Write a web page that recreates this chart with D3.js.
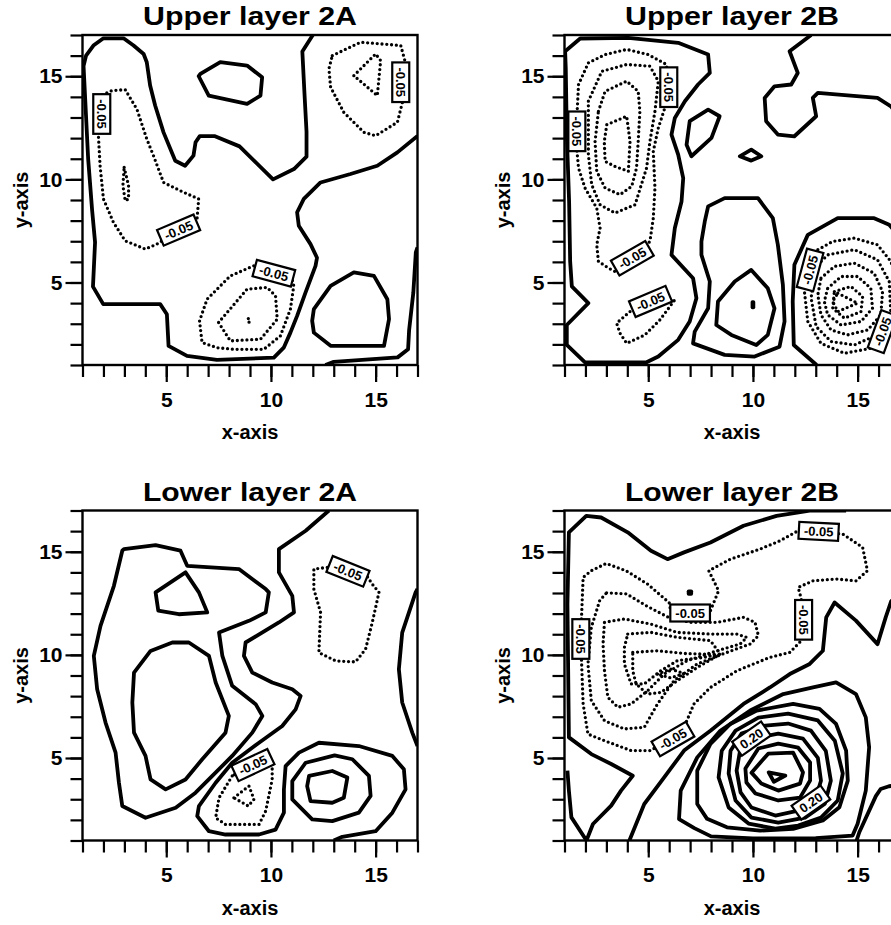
<!DOCTYPE html>
<html>
<head>
<meta charset="utf-8">
<script src="https://cdn.jsdelivr.net/npm/d3@7"></script>
<style>
  body { margin: 0; background: #fff; }
  svg { display: block; }
  text { font-family: "Liberation Sans", Arial, sans-serif; font-weight: bold; }
</style>
</head>
<body>
<svg id="chart" width="891" height="925"></svg>
<script>

// panel titles and axis ticks
const titles = ['Upper layer 2A', 'Upper layer 2B', 'Lower layer 2A', 'Lower layer 2B']
const minorTicks = d3.range(1, 18)
const majorTicks = [5, 10, 15]

// contour lines, [x, y] in grid units
// Upper layer 2A
const ua_loops = [
	[[6.55,15.0],[7.03,14.06],[8.86,13.66],[9.5,14.06],[9.58,14.95],[8.86,15.52],[7.58,15.68],[6.63,15.11]],
	[[11.97,3.14],[12.05,2.57],[12.85,1.93],[15.4,1.93],[15.64,3.22],[15.56,4.19],[14.92,5.32],[13.96,5.49],[12.85,4.84],[12.05,3.71]]
]
const ua_paths = [
	[[12.0,17],[11.5,16.2],[11.6,14.2],[11.7,12.3],[11.7,11.1],[11.1,10.5],[10.1,10.0],[8.5,11.6],[7.3,12.1],[6.6,12.1],[6.4,11.8],[6.3,11.15],[5.9,10.66],[5.43,10.9],[4.87,12.28],[4.47,13.58],[4.23,14.55],[4.07,15.68],[3.92,16.08],[3.44,16.49],[2.96,16.84],[2.0,16.84],[1.52,16.49],[1.17,16.0],[1.05,15.5],[1.27,11.0],[1.46,8.5],[1.6,6.95],[1.5,4.8],[1.99,3.95],[4.71,3.95],[5.03,3.46],[5.11,1.93],[5.99,1.44],[7.42,1.25],[10.14,1.36],[10.61,1.84],[10.93,2.57],[11.25,3.38],[11.65,4.51],[12.13,5.81],[12.2,6.2],[11.89,6.86],[11.33,7.75],[11.25,8.4],[11.57,9.05],[12.37,9.85],[13.8,10.26],[15.08,10.66],[16.04,11.31],[17,12.1]],
	[[12.6,1.0],[13.0,1.15],[16.05,1.37],[16.55,1.76],[16.6,2.7],[16.8,4.5],[16.92,6.46],[17,6.7]]
]
const ua_dotted = [
	[[12.93,16.0],[14.28,16.65],[16.2,16.49],[16.44,15.6],[16.28,13.74],[16.04,12.77],[15.0,12.12],[14.44,12.28],[13.48,13.25],[12.85,14.47],[12.77,15.36]],
	[[13.96,15.03],[15.0,16.08],[15.24,15.76],[15.08,14.06]],
	[[1.95,14.1],[2.4,14.3],[3.04,14.35],[3.6,13.4],[4.07,11.96],[4.39,11.15],[4.87,9.85],[5.67,9.45],[6.55,9.05],[6.47,8.07],[5.59,7.54],[4.55,6.86],[4.0,6.62],[3.04,7.02],[2.48,7.91],[2.0,9.05],[1.84,10.66],[1.76,12.12]],
	[[2.99,10.58],[3.2,9.7],[3.2,9.05],[3.04,8.96],[2.93,9.7]],
	[[9.18,5.81],[8.06,5.32],[6.95,4.19],[6.59,3.14],[6.71,2.09],[7.42,1.84],[8.22,1.76],[9.66,1.76],[10.45,2.41],[10.93,3.71],[11.09,4.84],[11.0,5.2]],
	[[7.5,3.06],[8.06,2.17],[9.5,2.25],[10.3,3.22],[10.22,4.35],[9.82,4.76],[8.86,4.68]],
	[[8.92,3.25],[8.96,3.05]]
]
const ua_labels = [['-0.05',1.92,13.17,90],['-0.05',5.59,7.54,-23],['-0.05',10.14,5.45,15],['-0.05',16.2,14.71,90]]

// Upper layer 2B
const ub_loops = [
	[[1.75,16.83],[4.05,16.86],[6.43,16.62],[7.86,16.05],[7.94,15.16],[7.38,14.6],[6.75,13.79],[6.27,12.98],[6.11,12.17],[6.43,11.2],[6.67,10.06],[6.59,8.93],[6.27,7.64],[6.11,6.34],[7.14,5.21],[7.3,4.24],[6.98,3.11],[6.43,2.22],[5.48,1.41],[4.92,1.13],[1.98,1.13],[1.11,1.97],[1.11,2.94],[2.14,4.0],[1.35,4.81],[1.27,6.02],[1.22,8.93],[1.11,12.17],[1.06,15.4],[1.03,16.21]],
	[[6.98,12.82],[7.86,13.38],[8.41,13.06],[8.02,12.01],[7.06,11.12],[6.83,11.68]],
	[[9.37,11.12],[9.92,11.44],[10.4,11.12],[9.92,10.91]],
	[[7.86,8.69],[8.65,9.09],[10.24,9.09],[10.95,8.12],[11.19,6.83],[11.43,4.89],[11.51,3.11],[11.27,1.89],[10.08,1.41],[8.65,1.49],[7.14,2.05],[7.22,2.62],[7.86,3.75],[7.94,5.05],[7.54,6.34],[7.54,6.99],[7.7,7.96]],
	[[8.33,4.08],[9.13,5.05],[9.92,5.61],[10.71,4.72],[11.03,3.75],[10.71,2.46],[10.16,1.97],[8.97,2.46],[8.25,2.94]],
	[[9.98,4.05],[10.02,4.05],[10.02,3.8],[9.98,3.8]]
]
const ub_paths = [
	[[12.78,17],[11.75,16.21],[12.14,15.16],[11.83,14.6],[11.03,14.51],[10.56,13.95],[10.63,12.82],[11.19,12.17],[11.98,12.09],[13.02,13.06],[12.86,13.95],[13.1,14.19],[15.95,13.95],[16.59,13.54],[17,13.0]],
	[[13.04,1.0],[11.95,1.97],[11.9,4.08],[11.98,5.86],[12.62,7.31],[14.05,8.12],[15.79,8.12],[16.51,7.8],[17,7.2]]
]
const ub_dotted = [
	[[1.6,13.2],[1.67,14.6],[2.14,15.65],[2.94,16.05],[3.97,16.3],[5.0,16.05],[5.87,15.57],[5.98,14.47],[5.79,13.46],[5.48,12.49],[5.24,11.36],[5.32,9.58],[5.24,8.12],[5.08,6.99],[4.24,6.18],[3.57,5.45],[3.1,5.7],[2.62,6.02],[2.54,6.83],[2.7,7.64],[2.54,8.61],[1.98,9.58],[1.67,10.55],[1.59,11.44]],
	[[2.14,13.79],[2.78,15.24],[3.97,15.57],[5.08,15.49],[5.48,14.76],[5.32,13.3],[5.08,11.84],[4.92,10.55],[4.37,8.77],[3.41,8.37],[2.7,8.77],[2.3,9.74],[2.14,11.2],[2.14,12.49]],
	[[2.62,13.3],[2.94,14.27],[3.97,14.76],[4.52,14.27],[4.6,13.3],[4.52,11.84],[4.44,10.55],[4.21,9.66],[3.65,9.26],[2.94,9.58],[2.54,10.39],[2.46,11.84]],
	[[3.02,12.65],[3.97,13.06],[4.13,11.84],[4.05,10.39],[3.41,10.63],[2.94,10.87],[2.9,11.84]],
	[[4.13,3.59],[3.49,3.03],[3.65,2.54],[3.97,2.05],[4.84,2.46],[5.56,3.19],[6.27,4.16]],
	[[13.1,6.59],[13.81,6.99],[14.84,7.15],[15.95,6.83],[16.59,6.02],[16.9,5.0],[16.8,3.2],[16.19,2.62],[15.63,1.81],[14.37,1.57],[13.25,2.05],[12.62,3.11],[12.46,4.56],[12.73,5.61]],
	[[12.94,5.7],[13.57,6.34],[14.84,6.59],[15.95,6.1],[16.51,5.05],[16.59,3.43],[15.95,2.46],[14.84,1.97],[13.73,2.14],[13.02,2.86],[12.78,4.24]],
	[[13.25,5.21],[13.89,5.78],[14.84,5.94],[15.79,5.45],[16.19,4.56],[16.11,3.43],[15.48,2.7],[14.52,2.46],[13.73,2.7],[13.25,3.43],[13.1,4.4]],
	[[13.57,4.72],[14.21,5.29],[15.0,5.29],[15.63,4.72],[15.71,3.75],[15.16,3.11],[14.21,2.94],[13.57,3.43],[13.41,4.08]],
	[[13.89,4.56],[14.68,4.81],[15.24,4.32],[15.16,3.59],[14.37,3.27],[13.81,3.75]],
	[[14.05,4.48],[15.0,4.0],[14.05,3.59],[13.81,4.08]]
]
const ub_labels = [['-0.05',1.59,12.33,90],['-0.05',5.98,14.47,90],['-0.05',4.24,6.18,-30],['-0.05',5.11,4.08,-23],['-0.05',12.73,5.61,-75],['-0.05',16.19,2.62,-70]]

// Lower layer 2A
const la_loops = [
	[[2.98,15.13],[4.49,15.32],[5.68,15.05],[6.0,14.32],[8.47,14.16],[9.75,13.19],[9.9,13.03],[9.75,12.06],[8.95,11.65],[7.52,11.08],[7.68,9.95],[8.15,8.5],[9.27,7.61],[9.59,7.04],[9.11,6.23],[8.15,5.1],[7.2,4.13],[6.4,3.32],[5.45,2.59],[4.01,2.1],[2.9,2.67],[2.74,3.8],[2.58,5.26],[2.1,6.72],[1.7,8.33],[1.54,9.95],[1.86,11.41],[2.5,13.35],[2.9,15.05]],
	[[4.49,13.03],[5.92,14.0],[6.56,13.03],[6.96,12.06],[5.6,11.97],[4.62,12.14]],
	[[4.25,10.19],[5.29,10.6],[6.08,10.6],[7.04,9.95],[7.36,8.66],[7.99,7.04],[7.83,6.23],[6.72,4.94],[5.92,3.96],[4.97,3.48],[4.25,3.96],[4.01,5.1],[3.46,6.23],[3.38,7.69],[3.46,9.14]],
	[[11.02,3.88],[11.66,4.77],[13.04,5.13],[13.89,4.94],[14.68,4.13],[14.76,3.16],[14.2,2.35],[12.93,1.94],[11.97,2.02],[11.02,2.99]],
	[[11.82,4.13],[12.93,4.37],[13.65,4.05],[13.48,3.07],[12.93,2.83],[11.89,2.91],[11.73,3.64]]
]
const la_paths = [
	[[12.77,17],[11.66,16.02],[10.38,15.13],[10.38,14.0],[11.02,12.86],[11.1,12.06],[10.38,11.57],[8.79,10.6],[8.71,9.95],[9.11,9.14],[10.06,8.66],[11.02,8.33],[11.42,8.01],[11.18,7.36],[10.54,6.55],[9.43,5.74],[8.15,4.77],[7.36,3.8],[6.56,2.67],[6.48,2.18],[7.04,1.45],[7.83,1.29],[9.43,1.29],[10.22,1.53],[10.62,2.35],[10.62,3.48],[10.7,4.61],[11.34,5.26],[12.29,5.74],[14.2,5.58],[15.8,5.1],[16.35,4.45],[16.43,3.48],[15.8,2.35],[15.0,1.45],[13.41,1.18],[13.0,1.0]],
	[[17,13.2],[16.91,13.03],[16.27,11.08],[16.11,9.3],[16.27,7.69],[16.75,6.23],[17,5.58]]
]
const la_dotted = [
	[[12.69,14.24],[12.05,14.16],[12.05,13.19],[12.37,12.06],[12.29,10.11],[13.09,9.71],[14.04,9.66],[14.52,10.28],[14.84,11.57],[15.16,13.03],[14.84,13.43],[14.6,13.8]],
	[[8.15,4.13],[7.52,3.07],[7.36,2.1],[7.83,1.78],[9.43,1.78],[9.75,2.43],[10.06,3.96],[10.06,4.85],[9.8,5.1]],
	[[8.23,3.07],[8.95,3.64],[9.19,3.0],[8.92,2.67]]
]
const la_labels = [['-0.05',13.68,14.05,22],['-0.05',9.14,4.66,-25]]

// Lower layer 2B
const lb_loops = [
	[[10.75,4.3],[11.55,4.15],[11.0,3.85]],
	[[9.93,4.29],[10.73,5.21],[11.92,5.26],[12.39,4.3],[12.25,3.76],[11.21,3.42],[10.4,3.76]],
	[[9.64,4.49],[10.26,5.46],[11.21,5.7],[12.16,5.5],[12.73,4.78],[12.73,3.91],[12.25,3.08],[11.21,2.94],[10.12,3.28],[9.69,3.81]],
	[[9.22,4.39],[9.41,5.5],[10.26,5.99],[11.21,6.18],[12.39,5.94],[13.1,5.01],[13.25,3.9],[12.96,2.94],[12.16,2.45],[11.07,2.21],[9.93,2.6],[9.41,3.33]],
	[[8.84,4.25],[8.93,5.35],[9.45,6.18],[10.59,6.57],[11.68,6.67],[12.77,6.33],[13.48,5.35],[13.72,3.9],[13.44,2.79],[12.49,2.11],[11.21,1.87],[9.93,2.11],[9.17,2.94]],
	[[8.36,4.06],[8.51,5.35],[9.17,6.33],[10.26,6.96],[11.68,7.15],[13.1,6.82],[13.91,5.84],[14.29,4.25],[14.05,2.94],[13.25,2.11],[12.16,1.72],[11.07,1.58],[9.79,1.82],[8.84,2.6]],
	[[7.34,2.77],[7.34,4.39],[7.97,5.68],[8.92,6.65],[10.18,7.3],[11.92,7.62],[13.18,7.38],[13.97,6.65],[14.45,5.36],[14.53,3.9],[14.13,2.61],[13.34,1.97],[11.92,1.56],[10.34,1.48],[8.76,1.64],[7.81,2.05]],
	[[6.47,2.04],[6.55,3.42],[7.34,5.03],[8.44,6.32],[9.87,7.3],[11.45,8.1],[12.87,8.42],[13.97,8.67],[14.92,8.1],[15.39,6.97],[15.55,5.52],[15.39,3.42],[15.0,1.81],[14.76,1.24],[13,1.12],[10,1.1],[8,1.2],[7.2,1.6]],
	[[6.93,13.08],[7.05,13.08],[7.05,12.96],[6.93,12.96]]
]
const lb_paths = [
	[[14.45,17],[12.71,16.99],[11.13,16.74],[9.55,16.26],[7.97,15.45],[6.71,14.97],[5.92,14.64],[5.13,15.05],[4.02,15.94],[2.75,16.66],[2.04,16.74],[1.21,15.94],[1.14,12.46],[1.21,6.0],[2.28,5.19],[3.23,4.71],[4.26,4.14],[3.7,3.42],[3.23,2.69],[2.36,1.8],[2.05,1.0]],
	[[2.05,1.0],[1.33,2.12],[1.21,3.42],[1.14,4.39]],
	[[4.1,1.0],[4.81,2.77],[5.76,4.06],[6.71,5.36],[7.97,6.32],[9.55,7.62],[10.81,8.42],[11.76,9.07],[12.71,9.56],[13.34,10.2],[13.5,11.82],[13.9,12.54],[14.92,11.66],[15.95,10.52],[16.34,11.82],[16.6,12.6],[17,13.0]],
	[[14.95,1.0],[15.08,1.4],[15.87,3.15],[16.1,3.5],[16.5,3.63],[17,3.7]]
]
const lb_dotted = [
	[[1.81,11.74],[1.89,13.76],[2.28,14.08],[2.99,14.43],[3.94,14.08],[4.97,13.43],[6.0,12.53],[6.07,12.14],[7.97,12.14],[8.36,13.11],[7.89,14.08],[8.92,14.64],[10.34,15.13],[11.29,15.53],[12.16,16.02],[14.29,15.86],[15.24,15.21],[15.47,14.08],[14.92,13.59],[13.97,13.68],[12.87,13.59],[12.16,13.27],[12.31,12.71],[12.31,10.69],[11.76,10.12],[10.81,9.88],[9.23,9.23],[7.97,8.42],[7.18,7.62],[6.71,6.49],[5.13,5.36],[4.18,5.36],[2.91,5.84],[2.12,6.16],[1.89,7.62],[1.81,9.8]],
	[[3.01,13.01],[3.96,12.96],[4.91,12.38],[6.0,11.8],[7.02,11.58],[8.29,11.58],[9.55,11.82],[10.1,11.58],[10.26,10.93],[9.87,10.53],[8.76,10.12],[7.34,9.56],[6.23,8.75],[5.44,7.62],[4.81,6.49],[3.86,6.41],[2.91,6.81],[2.28,7.78],[2.12,9.56],[2.28,11.33],[2.68,12.63]],
	[[2.91,11.58],[3.86,11.74],[5.13,11.49],[6.39,11.09],[7.97,11.01],[9.23,11.01],[9.71,10.85],[9.39,10.53],[8.29,10.2],[6.86,9.72],[5.76,9.07],[4.97,8.26],[4.18,7.62],[3.55,7.46],[3.07,7.94],[2.91,9.23],[2.84,10.53]],
	[[4.02,11.01],[5.13,11.09],[6.39,10.85],[7.97,10.69],[8.44,10.04],[7.65,9.88],[6.39,9.72],[5.6,9.23],[4.81,8.59],[4.18,8.59],[3.86,9.56],[3.86,10.36]],
	[[4.26,10.12],[5.44,10.2],[6.71,10.07],[8.41,10.01],[7.34,9.39],[6.39,8.75],[5.6,8.18],[4.97,8.1],[4.42,8.59],[4.26,9.23]],
	[[5.44,9.07],[6.07,9.31],[6.71,9.1],[6.07,8.88]]
]
const lb_labels = [['-0.05',1.78,10.77,90],['-0.05',13.14,15.99,3],['-0.05',12.42,11.7,90],['-0.05',7.0,12.03,0],['-0.05',6.18,5.92,-30],['0.20',9.93,5.94,-35],['0.20',12.77,2.84,-35]]


const panels = [
	{ title: titles[0], col: 0, row: 0, loops: ua_loops, paths: ua_paths, dotted: ua_dotted, labels: ua_labels },
	{ title: titles[1], col: 1, row: 0, loops: ub_loops, paths: ub_paths, dotted: ub_dotted, labels: ub_labels },
	{ title: titles[2], col: 0, row: 1, loops: la_loops, paths: la_paths, dotted: la_dotted, labels: la_labels },
	{ title: titles[3], col: 1, row: 1, loops: lb_loops, paths: lb_paths, dotted: lb_dotted, labels: lb_labels },
]

const pw = 335, ph = 330
const colX = [82.5, 564.5]
const rowY = [35, 510.5]

const svg = d3.select('#chart')

panels.forEach((p, i) => {
	const x = d3.scaleLinear().domain([1, 17]).range([0, pw])
	const y = d3.scaleLinear().domain([1, 17]).range([ph, 0])

	const g = svg.append('g')
		.attr('transform', `translate(${colX[p.col]}, ${rowY[p.row]})`)

	g.append('clipPath').attr('id', 'clip' + i)
		.append('rect').attr('width', pw).attr('height', ph)

	const c = g.append('g').attr('clip-path', `url(#clip${i})`)

	const open = d3.line().x(d => x(d[0])).y(d => y(d[1]))
	const closed = d3.line().x(d => x(d[0])).y(d => y(d[1])).curve(d3.curveLinearClosed)

	c.selectAll('path.loop').data(p.loops).join('path')
		.attr('class', 'loop')
		.attr('d', closed)
		.attr('fill', 'none').attr('stroke', '#000')
		.attr('stroke-width', 3.8).attr('stroke-linejoin', 'round')

	c.selectAll('path.open').data(p.paths).join('path')
		.attr('class', 'open')
		.attr('d', open)
		.attr('fill', 'none').attr('stroke', '#000')
		.attr('stroke-width', 3.8).attr('stroke-linejoin', 'round')

	c.selectAll('path.dot').data(p.dotted).join('path')
		.attr('class', 'dot')
		.attr('d', closed)
		.attr('fill', 'none').attr('stroke', '#000')
		.attr('stroke-width', 3.3).attr('stroke-linecap', 'round')
		.attr('stroke-dasharray', '0 4.8')

	// contour labels in white boxes
	const lab = c.selectAll('g.lab').data(p.labels).join('g')
		.attr('class', 'lab')
		.attr('transform', d => `translate(${x(d[1])}, ${y(d[2])}) rotate(${d[3]})`)
	lab.append('rect')
	const texts = lab.append('text')
		.attr('text-anchor', 'middle').attr('dy', 4.6)
		.attr('font-size', 13)
		.text(d => d[0])
	texts.each(function() {
		const w = this.getComputedTextLength() + 10
		d3.select(this.previousSibling)
			.attr('x', -w / 2).attr('y', -8.5)
			.attr('width', w).attr('height', 17)
			.attr('fill', '#fff').attr('stroke', '#000').attr('stroke-width', 2.2)
	})

	// frame
	g.append('rect').attr('width', pw).attr('height', ph)
		.attr('fill', 'none').attr('stroke', '#000').attr('stroke-width', 2.4)

	// axes: minor ticks every unit, longer labelled ticks at 5, 10, 15
	const axes = [
		[d3.axisBottom(x).tickValues(minorTicks).tickSize(12).tickFormat(''), `translate(0, ${ph})`],
		[d3.axisBottom(x).tickValues(majorTicks).tickSize(17).tickPadding(10), `translate(0, ${ph})`],
		[d3.axisLeft(y).tickValues(minorTicks).tickSize(12).tickFormat(''), null],
		[d3.axisLeft(y).tickValues(majorTicks).tickSize(17).tickPadding(3), null],
	]
	axes.forEach(([ax, tr]) => {
		const a = g.append('g').call(ax)
		if (tr) a.attr('transform', tr)
		a.select('.domain').remove()
		a.selectAll('line').attr('stroke', '#000').attr('stroke-width', 2.2)
		a.selectAll('text').attr('font-size', 21).attr('fill', '#000')
			.attr('font-family', '"Liberation Sans", Arial, sans-serif').attr('font-weight', 'bold')
	})

	g.append('text')
		.attr('x', pw / 2).attr('y', -10)
		.attr('text-anchor', 'middle').attr('font-size', 25)
		.attr('textLength', 214).attr('lengthAdjust', 'spacingAndGlyphs')
		.text(p.title)

	g.append('text')
		.attr('x', pw / 2).attr('y', ph + 74)
		.attr('text-anchor', 'middle').attr('font-size', 20)
		.text('x-axis')

	g.append('text')
		.attr('transform', `translate(-55, ${ph / 2}) rotate(-90)`)
		.attr('text-anchor', 'middle').attr('font-size', 20)
		.text('y-axis')
})

</script>
</body>
</html>
